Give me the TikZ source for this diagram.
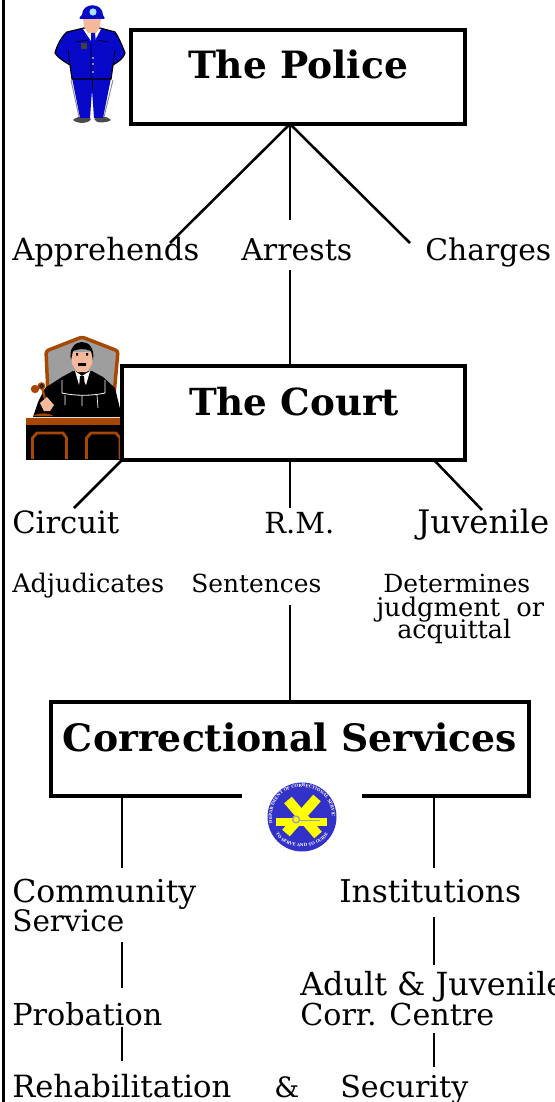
\documentclass[tikz,border=0pt]{standalone}
\usepackage{fontspec}
\usepackage{graphicx}
\setmainfont{DejaVu Serif}
\usetikzlibrary{decorations.text}
\definecolor{copblue}{HTML}{0808C8}
\definecolor{chairbrown}{HTML}{A84800}
\definecolor{skin}{HTML}{F4B89A}
\definecolor{logoblue}{HTML}{3232C8}
\definecolor{logoyellow}{HTML}{FFFF00}
\newcommand{\fitw}[2]{\resizebox{#1\dimexpr0.75pt\relax}{!}{#2}}
\tikzset{
  x=0.75pt,y=-0.75pt,
  box/.style={draw=black,line width=2.5pt,fill=white,inner sep=0pt,outer sep=0pt,anchor=north west},
  link/.style={draw=black,line width=1.9pt},
  head/.style={inner sep=0pt,anchor=base,font=\fontsize{29}{30}\selectfont\bfseries},
  big/.style={inner sep=0pt,anchor=base west,font=\fontsize{22.5}{24}\selectfont},
  small/.style={inner sep=0pt,anchor=base west,font=\fontsize{17}{18}\selectfont},
}
\begin{document}
\begin{tikzpicture}
\useasboundingbox (0,0) rectangle (554,1102);
\clip (0,0) rectangle (554,1102);
\draw[line width=2.1pt] (3.4,0) -- (3.4,1102);

% ---------- policeman
\begin{scope}
  \fill[black!70] (73,120) .. controls (78,115) and (88,116) .. (91,119) .. controls (89,124) and (77,124) .. (73,120) -- cycle;
  \fill[black!70] (94,119) .. controls (98,115) and (108,116) .. (111,120) .. controls (107,123) and (96,124) .. (94,119) -- cycle;
  \draw[black!45,line width=0.7pt] (71,80) -- (79,117) (113,80) -- (104,117);
  \fill[copblue] (72,78) -- (80,118) -- (90,118) -- (92,90) -- (94,118) -- (103,118) -- (111,78) -- cycle;
  \draw[black,line width=0.5pt] (92,90) -- (92,80);
  \draw[black,line width=0.9pt,fill=copblue] (84,28) -- (67,32) .. controls (62,36) and (57,45) .. (55,53) .. controls (58,58) and (65,62) .. (70,65) -- (72,79) -- (111,79) -- (113,65) .. controls (118,62) and (124,58) .. (125,53) .. controls (122,45) and (118,36) .. (115,32) -- (100,28) -- cycle;
  \draw[black,line width=0.5pt] (70,65) -- (68,50) (113,65) -- (115,50) (91,44) -- (91,79) (76,42) -- (88,40) (98,40) -- (108,42);
  \fill[white] (83,29) -- (101,29) -- (93,44) -- cycle;
  \fill[skin] (83,18) -- (101,18) -- (100,27) -- (96,33) -- (88,33) -- (84,27) -- cycle;
  \fill[copblue] (91,33) -- (95,33) -- (96,43) -- (93,46) -- (91,43) -- cycle;
  \fill[black!75] (81,43) rectangle (87,49);
  \fill[copblue] (82,15) .. controls (82,2) and (103,2) .. (103,15) .. controls (105,17) and (105,19) .. (104,19) -- (80,19) .. controls (79,19) and (79,17) .. (82,15) -- cycle;
  \fill[cyan!35] (93,12) circle (3.6);
  \foreach \yy in {58,64,72} \fill[white] (93,\yy) circle (0.9);
\end{scope}

% ---------- judge
\begin{scope}
  \draw[draw=chairbrown,line width=2.6pt,fill=black!38,rounded corners=2pt] (48,395) -- (46,351) -- (82,337) -- (118,351) -- (114,395) -- cycle;
  \fill[black] (62,377) -- (73,371) -- (92,371) -- (103,377) -- (115,388) -- (122,417) -- (33,417) -- (38,402) -- (45,388) -- cycle;
  \fill[white] (75,371) -- (82,376) -- (90,371) -- (86,385) -- (82,378) -- (79,385) -- cycle;
  \fill[black] (80,376) -- (84,376) -- (85,388) -- (82,392) -- (79,388) -- cycle;
  \draw[white,line width=0.6pt] (62,380) -- (62,393) .. controls (75,396) and (92,396) .. (105,393) -- (105,380);
  \draw[white,line width=0.5pt] (65,395) -- (65,405) (82,395) -- (82,406) (97,395) -- (98,408);
  \fill[skin] (71,352) -- (93,352) -- (92,364) -- (87,372) -- (77,372) -- (72,364) -- cycle;
  \fill[black] (71,360) .. controls (66,337) and (97,335) .. (93,360) -- (91,351) .. controls (84,348) and (78,349) .. (73,351) -- cycle;
  \fill[black] (78,362.5) rectangle (86,365.5);
  \fill[black] (76,353) rectangle (78,355.5) (86,353) rectangle (88,355.5);
  \fill[chairbrown] (33,416) .. controls (40,412) and (48,413) .. (54,416) -- cycle;
  \draw[chairbrown,line width=1.6pt] (42,387) -- (45,399);
  \fill[chairbrown] (35,389) circle (4.2);
  \fill[chairbrown] (41.5,386) circle (3.8);
  \draw[black,line width=0.5pt] (41.5,386) circle (1.8);
  \fill[skin] (40,403) -- (47,397) -- (54,405) -- (50,411) -- (44,411) -- cycle;
  \fill[black] (26,424) rectangle (122,460);
  \fill[chairbrown] (26,418) rectangle (122,424.5);
  \draw[chairbrown,line width=2.1pt] (32.5,459) -- (32.5,438) -- (37,433) -- (63,433) -- (66.5,438) -- (66.5,459);
  \draw[chairbrown,line width=2.1pt] (86.5,459) -- (86.5,438) -- (91,433) -- (116,433) -- (120,438) -- (120,459);
\end{scope}

% ---------- boxes
\node[box,minimum width=334*0.75pt,minimum height=94*0.75pt] (police) at (131,30) {};
\node[head] (policetxt) at (298,79) {\fitw{220}{The Police}};
\node[box,minimum width=343*0.75pt,minimum height=94*0.75pt] (court) at (122,366) {};
\node[head] (courttxt) at (294,415) {\fitw{210}{The Court}};
\node[box,minimum width=478*0.75pt,minimum height=94*0.75pt] (corr) at (51,702) {};
\node[head] (corrtxt) at (290,751) {\fitw{454}{Correctional Services}};
\fill[white] (242,790) rectangle (362,800);

% ---------- logo
\begin{scope}
  \fill[logoblue] (302,817) circle (34.5);
  \draw[logoyellow,line width=7.5pt] (288,800) -- (318,835);
  \draw[logoyellow,line width=7.5pt] (317,798) -- (286,833);
  \fill[logoyellow] (276,818) rectangle (327,826);
  \draw[black!35,line width=1.1pt] (296,819.5) circle (3.4);
  \draw[black!35,line width=1.1pt] (299,820.5) -- (320,820.5);
  \path[postaction={decorate,decoration={text along path,text align=center,
    text={|\fontsize{3.1}{3}\selectfont\bfseries\color{white}|DEPARTMENT OF CORRECTIONAL SERVICES}}}]
    (272,817) .. controls (272,777) and (332,777) .. (332,817);
  \path[postaction={decorate,decoration={text along path,text align=center,
    text={|\fontsize{3.1}{3}\selectfont\bfseries\color{white}|TO SERVE AND TO GUIDE}}}]
    (276,834) .. controls (285,851) and (319,851) .. (328,834);
\end{scope}

% ---------- texts
\node[big] (apprehends) at (12,260) {\fitw{187}{Apprehends}};
\node[big] (arrests) at (241,260) {\fitw{111}{Arrests}};
\node[big] (charges) at (425,260) {\fitw{126}{Charges}};
\node[big] (circuit) at (12,533) {\fitw{107}{Circuit}};
\node[big] (rm) at (264,533) {\fitw{70}{R.M.}};
\node[big] (juvenile) at (417,533) {\fitw{132}{Juvenile}};
\node[small] (adjudicates) at (12,592) {\fitw{152}{Adjudicates}};
\node[small] (sentences) at (191,592) {\fitw{130}{Sentences}};
\node[small] (determines) at (383,592) {\fitw{147}{Determines}};
\node[small] (judgment) at (376,616) {\fitw{168}{judgment\ \ or}};
\node[small] (acquittal) at (397,638) {\fitw{114}{acquittal}};
\node[big] (community) at (12,902) {\fitw{184}{Community}};
\node[big] (service) at (12,931) {\fitw{112}{Service}};
\node[big] (institutions) at (339,902) {\fitw{182}{Institutions}};
\node[big] (adult) at (300,995) {\fitw{265}{Adult \& Juvenile}};
\node[big] (corrcentre) at (300,1025) {\fitw{194}{Corr. Centre}};
\node[big] (probation) at (12,1025) {\fitw{150}{Probation}};
\node[big] (rehab) at (12,1097) {\fitw{219}{Rehabilitation}};
\node[big] (amp) at (274,1097) {\fitw{25}{\&}};
\node[big] (security) at (340,1097) {\fitw{128}{Security}};

% ---------- connectors
\coordinate (pc) at (290,124);
\coordinate (e1) at (170,243);
\coordinate (e2) at (290,220);
\coordinate (e3) at (410,243);
\coordinate (s4) at (290,270);
\coordinate (e5) at (74,508);
\coordinate (cc) at (290,508);
\coordinate (e7) at (482,510);
\coordinate (cl) at (122,460);
\coordinate (cr) at (434,460);
\coordinate (s8) at (290,605);
\coordinate (e9) at (122,868);
\coordinate (e10) at (434,868);
\coordinate (s11) at (122,942);
\coordinate (e11) at (122,988);
\coordinate (s12) at (434,917);
\coordinate (e12) at (434,965);
\coordinate (s13) at (122,1027);
\coordinate (e13) at (122,1061);
\coordinate (s14) at (434,1033);
\coordinate (e14) at (434,1067);
\draw[link] (police.south -| pc) -- (e1);
\draw[link] (police.south -| pc) -- (e2);
\draw[link] (police.south -| pc) -- (e3);
\draw[link] (s4) -- (court.north -| s4);
\draw[link] (court.south -| cl) -- (e5);
\draw[link] (court.south -| cc) -- (cc);
\draw[link] (court.south -| cr) -- (e7);
\draw[link] (s8) -- (corr.north -| s8);
\draw[link] (corr.south -| e9) -- (e9);
\draw[link] (corr.south -| e10) -- (e10);
\draw[link] (s11) -- (e11);
\draw[link] (s12) -- (e12);
\draw[link] (s13) -- (e13);
\draw[link] (s14) -- (e14);
\end{tikzpicture}
\end{document}
